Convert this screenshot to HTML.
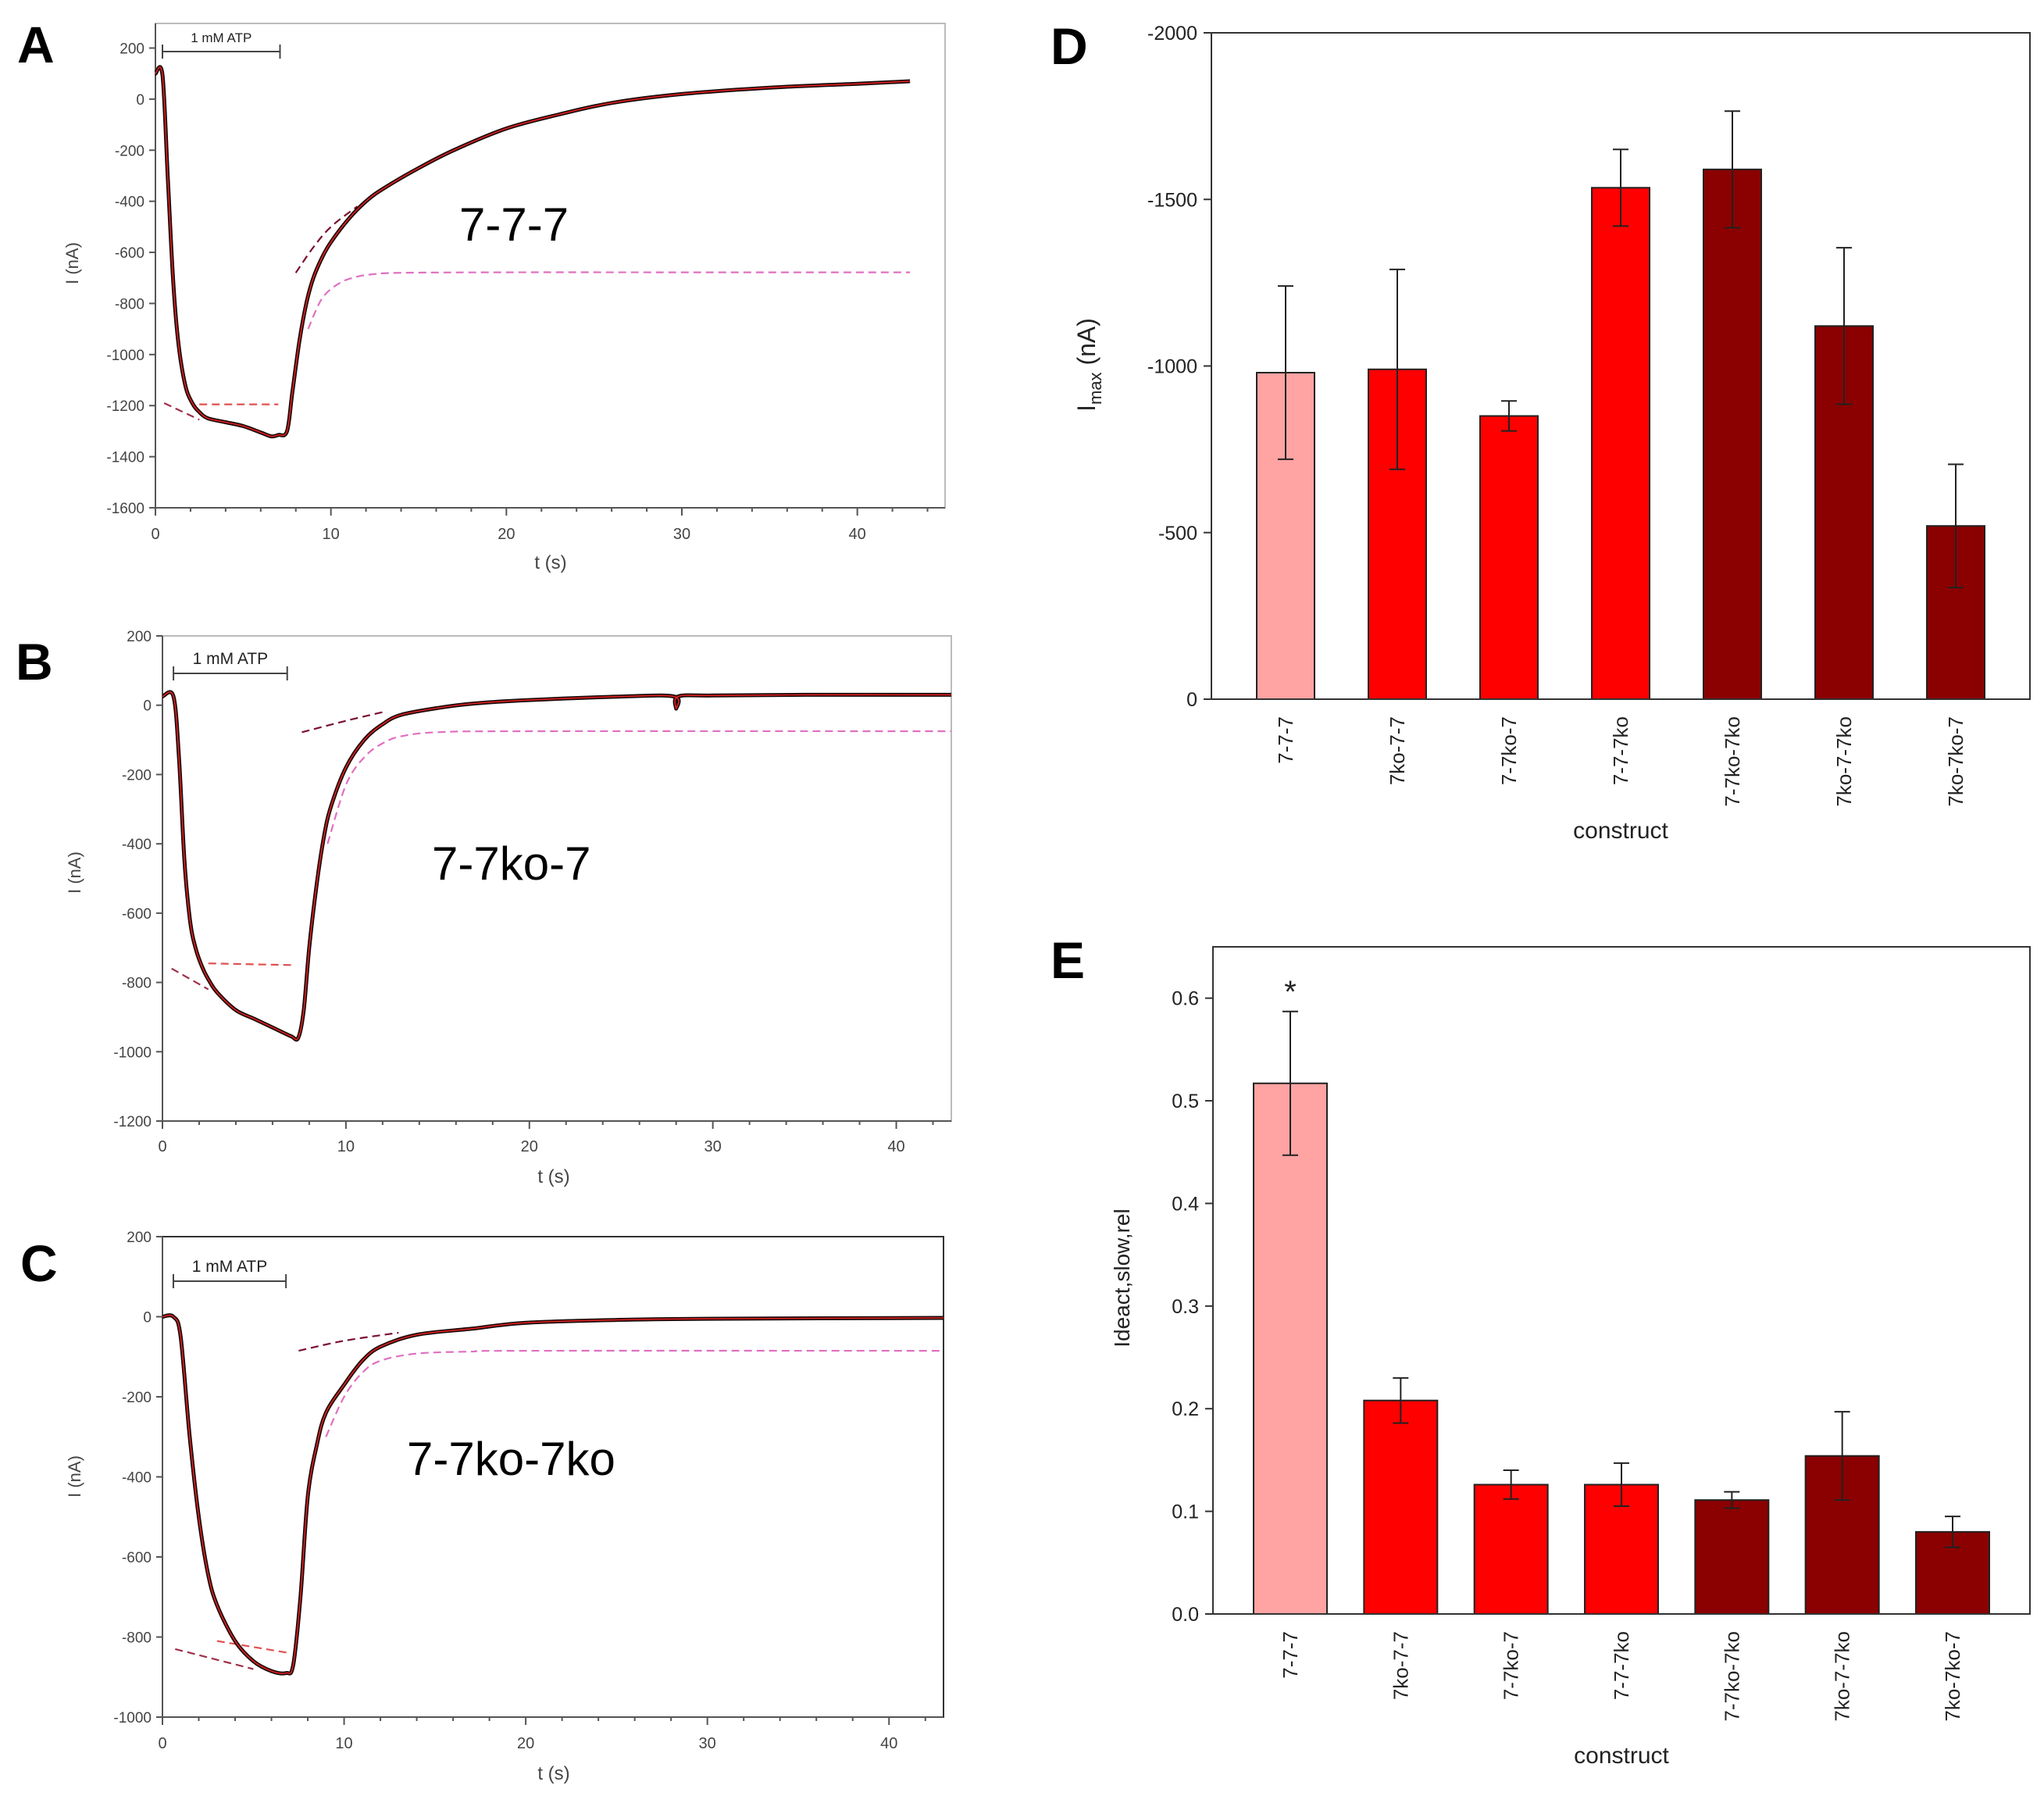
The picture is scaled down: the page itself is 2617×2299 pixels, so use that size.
<!DOCTYPE html>
<html><head><meta charset="utf-8"><style>
html,body{margin:0;padding:0;background:#fff}
svg{display:block;font-family:"Liberation Sans",sans-serif}
</style></head><body>
<svg id="fig" width="2617" height="2299" viewBox="0 0 2617 2299" xmlns="http://www.w3.org/2000/svg">
<rect width="2617" height="2299" fill="#fff"/>
<g id="panels"></g>
</svg>
<script>
// ---------- Panel A data (7-7-7) ----------
const tA = [0,0.4,0.7,1.0,1.3,1.7,2.1,2.5,3,4,5,6,6.6,7.0,7.5,7.8,8.2,8.6,9,9.5,10,11,12,13,15,17,20,23,26,30,35,40,43];
const iA = [100,95,-300,-700,-950,-1120,-1190,-1225,-1250,-1265,-1280,-1305,-1320,-1315,-1300,-1150,-950,-800,-700,-620,-560,-470,-400,-350,-270,-200,-115,-60,-15,20,45,60,70];
const fitA1t = [0.5,2.5], fitA1i = [-1190,-1255];
const fitA2t = [2.5,7.0], fitA2i = [-1195,-1195];
const fitA3t = [8,9,10,11.5], fitA3i = [-680,-580,-500,-420];
const fitA4t = [8.7,9.5,10.5,11.5,12.5,14,20,30,43], fitA4i = [-900,-780,-720,-695,-685,-680,-678,-678,-678];
// ---------- Panel B data (7-7ko-7) ----------
const tB = [0,0.6,0.9,1.2,1.5,1.8,2.2,2.6,3,4,5,6,7,7.4,7.7,8,8.4,8.8,9.2,10,11,12,13,15,17,20,25,27.9,28,28.1,30,35,43];
const iB = [25,25,-150,-450,-620,-700,-760,-800,-830,-880,-905,-930,-955,-960,-880,-700,-520,-380,-290,-180,-100,-55,-28,-8,5,15,25,25,-10,25,28,30,30];
const fitB1t = [0.5,2.5], fitB1i = [-760,-820];
const fitB2t = [2.5,7.2], fitB2i = [-745,-750];
const fitB3t = [7.6,10,12], fitB3i = [-78,-45,-20];
const fitB4t = [9,10,11,12,13,15,20,43], fitB4i = [-400,-230,-150,-110,-90,-78,-75,-75];
// ---------- Panel C data (7-7ko-7ko) ----------
const tC = [0,0.6,1.0,1.5,2,2.5,3,4,5,6,6.8,7.2,7.6,8,8.5,9,10,11,12,14,17,20,25,30,43];
const iC = [0,0,-50,-300,-500,-640,-720,-810,-860,-885,-890,-870,-700,-450,-320,-240,-170,-110,-75,-45,-30,-15,-8,-5,-3];
const fitC1t = [0.7,5], fitC1i = [-830,-880];
const fitC2t = [3,7], fitC2i = [-810,-840];
const fitC3t = [7.5,10,13], fitC3i = [-85,-60,-40];
const fitC4t = [9,10,11,12,14,17,20,43], fitC4i = [-300,-200,-140,-110,-92,-87,-85,-85];
// ---------- Panel D / E data ----------
const constructs = ["7-7-7","7ko-7-7","7-7ko-7","7-7-7ko","7-7ko-7ko","7ko-7-7ko","7ko-7ko-7"];
const barColors = ["#ffa3a3","#ff0000","#ff0000","#ff0000","#8b0000","#8b0000","#8b0000"];
const imaxVals = [-980,-990,-850,-1535,-1590,-1120,-520];
const imaxErr = [260,300,45,115,175,235,185];
const imaxTicks = [0,-500,-1000,-1500,-2000];
const ideactVals = [0.517,0.208,0.126,0.126,0.111,0.154,0.080];
const ideactErr = [0.070,0.022,0.014,0.021,0.008,0.043,0.015];
const ideactTicks = [0.0,0.1,0.2,0.3,0.4,0.5,0.6];

const NS = "http://www.w3.org/2000/svg";
const root = document.getElementById("panels");
function mk(tag, attrs, parent){const e=document.createElementNS(NS,tag);for(const k in attrs)e.setAttribute(k,attrs[k]);(parent||root).appendChild(e);return e;}
function txt(s, attrs, parent){const e=mk("text",attrs,parent);e.textContent=s;return e;}
function smoothPath(P){
  if(P.length<3) return "M"+P.map(p=>p[0].toFixed(1)+","+p[1].toFixed(1)).join(" L");
  let d="M"+P[0][0].toFixed(1)+","+P[0][1].toFixed(1);
  for(let i=0;i<P.length-1;i++){
    const p0=P[Math.max(0,i-1)],p1=P[i],p2=P[i+1],p3=P[Math.min(P.length-1,i+2)];
    const c1=[p1[0]+(p2[0]-p0[0])/6,p1[1]+(p2[1]-p0[1])/6];
    const c2=[p2[0]-(p3[0]-p1[0])/6,p2[1]-(p3[1]-p1[1])/6];
    d+=` C${c1[0].toFixed(1)},${c1[1].toFixed(1)} ${c2[0].toFixed(1)},${c2[1].toFixed(1)} ${p2[0].toFixed(1)},${p2[1].toFixed(1)}`;
  }
  return d;
}

function tracePanel(cfg){
  const g = mk("g",{});
  
  
  const sx = t => cfg.x0 + (t/cfg.xmax)*(cfg.x1-cfg.x0);
  const sy = v => cfg.yb + (v-cfg.ymin)/(cfg.ymaxTick-cfg.ymin)*(cfg.yTickTop-cfg.yb);
  const fr = mk("rect",{x:cfg.x0,y:cfg.yt,width:cfg.x1-cfg.x0,height:cfg.yb-cfg.yt,fill:"none",stroke:cfg.frame,"stroke-width":2},g);
  
  
  mk("line",{x1:cfg.x0,y1:cfg.yt,x2:cfg.x0,y2:cfg.yb,stroke:"#555","stroke-width":2},g);
  mk("line",{x1:cfg.x0,y1:cfg.yb,x2:cfg.x1,y2:cfg.yb,stroke:"#555","stroke-width":2},g);
  for(let v=cfg.ymin; v<=cfg.ymaxTick; v+=200){
    const y=sy(v);
    mk("line",{x1:cfg.x0-8,y1:y,x2:cfg.x0,y2:y,stroke:"#555","stroke-width":2},g);
    const t=txt(String(v),{x:cfg.x0-14,y:y+7,"font-size":19,"text-anchor":"end",fill:"#444"},g);
    
    
  }
  for(let v=0; v<=cfg.xmax; v+=2){
    const x=sx(v), major = v%10===0;
    mk("line",{x1:x,y1:cfg.yb,x2:x,y2:cfg.yb+(major?10:5),stroke:"#555","stroke-width":2},g);
    if(major){
      const t=txt(String(v),{x:x,y:cfg.xlabY,"font-size":20,"text-anchor":"middle",fill:"#444"},g);
      
      
    }
  }
  const xt=txt("t (s)",{x:cfg.xtX,y:cfg.xtY,"font-size":24,"text-anchor":"middle",fill:"#444"},g);
  
  
  const yt=txt("I (nA)",{x:0,y:0,"font-size":22,"text-anchor":"middle",fill:"#444",transform:`translate(${cfg.ytX},${cfg.ytY}) rotate(-90)`},g);
  
  
  const L=txt(cfg.letter,{x:cfg.lx,y:cfg.ly,"font-size":66,"font-weight":"bold",fill:"#000"},g);
  
  
  const b1=sx(cfg.atp[0]), b2=sx(cfg.atp[1]);
  const ab=mk("g",{},g);
  
  
  mk("line",{x1:b1,y1:cfg.atpY,x2:b2,y2:cfg.atpY,stroke:"#444","stroke-width":2},ab);
  mk("line",{x1:b1,y1:cfg.atpY-9,x2:b1,y2:cfg.atpY+9,stroke:"#444","stroke-width":2},ab);
  mk("line",{x1:b2,y1:cfg.atpY-9,x2:b2,y2:cfg.atpY+9,stroke:"#444","stroke-width":2},ab);
  txt("1 mM ATP",{x:(b1+b2)/2,y:cfg.atpY-12,"font-size":cfg.atpFs,"text-anchor":"middle",fill:"#222"},ab);
  const cl=txt(cfg.label,{x:cfg.labX,y:cfg.labY,"font-size":60,fill:"#000"},g);
  
  
  const pp=(ts,is)=>ts.map((t,i)=>[sx(t),sy(is[i])]);
  const fits=[[cfg.f1t,cfg.f1i,"#a0304a"],[cfg.f2t,cfg.f2i,"#e05050"],[cfg.f3t,cfg.f3i,"#7a1030"],[cfg.f4t,cfg.f4i,"#e070c0"]];
  fits.forEach(f=>{
    const p=mk("path",{d:smoothPath(pp(f[0],f[1])),fill:"none",stroke:f[2],"stroke-width":2.2,"stroke-dasharray":"10,6"},g);
    
    
  });
  const d=smoothPath(pp(cfg.ts,cfg.is));
  const tr=mk("path",{d:d,fill:"none",stroke:"#1a0a0a","stroke-width":5,"stroke-linejoin":"round"},g);
  
  
  const tr2=mk("path",{d:d,fill:"none",stroke:"#e02020","stroke-width":1.6,"stroke-linejoin":"round"},g);
  
  
}

tracePanel({name:"panel-a",letter:"A",lx:22,ly:80,x0:199,x1:1210,xmax:45,yt:30,yb:650,ymin:-1600,ymaxTick:200,yTickTop:61.5,
  xlabY:690,xtX:705,xtY:728,ytX:100,ytY:337,frame:"#bbb",atp:[0.4,7.1],atpY:66,atpFs:17,label:"7-7-7",labX:588,labY:308,
  ts:tA,is:iA,f1t:fitA1t,f1i:fitA1i,f2t:fitA2t,f2i:fitA2i,f3t:fitA3t,f3i:fitA3i,f4t:fitA4t,f4i:fitA4i});
tracePanel({name:"panel-b",letter:"B",lx:20,ly:870,x0:208,x1:1218,xmax:43,yt:814,yb:1435,ymin:-1200,ymaxTick:200,yTickTop:814,
  xlabY:1474,xtX:709,xtY:1514,ytX:103,ytY:1117,frame:"#bbb",atp:[0.6,6.8],atpY:862,atpFs:21,label:"7-7ko-7",labX:553,labY:1126,
  ts:tB,is:iB,f1t:fitB1t,f1i:fitB1i,f2t:fitB2t,f2i:fitB2i,f3t:fitB3t,f3i:fitB3i,f4t:fitB4t,f4i:fitB4i});
tracePanel({name:"panel-c",letter:"C",lx:26,ly:1640,x0:208,x1:1208,xmax:43,yt:1583,yb:2198,ymin:-1000,ymaxTick:200,yTickTop:1583,
  xlabY:2238,xtX:709,xtY:2278,ytX:103,ytY:1890,frame:"#333",atp:[0.6,6.8],atpY:1640,atpFs:21,label:"7-7ko-7ko",labX:521,labY:1888,
  ts:tC,is:iC,f1t:fitC1t,f1i:fitC1i,f2t:fitC2t,f2i:fitC2i,f3t:fitC3t,f3i:fitC3i,f4t:fitC4t,f4i:fitC4i});

function barPanel(cfg){
  const g = mk("g",{});
  
  
  const sy = v => cfg.yb + (v-cfg.v0)/(cfg.vTop-cfg.v0)*(cfg.yt-cfg.yb);
  const n=cfg.vals.length, step=(cfg.x1-cfg.x0-2*cfg.pad)/(n-1);
  const cx = i => cfg.x0+cfg.pad+i*step;
  cfg.vals.forEach((v,i)=>{
    const y=sy(v), x=cx(i)-cfg.bw/2;
    const r=mk("rect",{x:x,y:Math.min(y,cfg.yb),width:cfg.bw,height:Math.abs(cfg.yb-y),fill:cfg.colors[i],stroke:"#222","stroke-width":2},g);
    
    
    const e=cfg.err[i], ya=sy(v-e), yb2=sy(v+e);
    const eb=mk("g",{stroke:"#222","stroke-width":2},g);
    
    
    mk("line",{x1:cx(i),y1:ya,x2:cx(i),y2:yb2},eb);
    mk("line",{x1:cx(i)-10,y1:ya,x2:cx(i)+10,y2:ya},eb);
    mk("line",{x1:cx(i)-10,y1:yb2,x2:cx(i)+10,y2:yb2},eb);
    const lt=txt(cfg.cats[i],{x:0,y:0,"font-size":26,"text-anchor":"end",fill:"#222",transform:`translate(${cx(i)+9},${cfg.yb+22}) rotate(-90)`},g);
    
    
  });
  if(cfg.star){
    const s=txt("*",{x:cx(0),y:sy(cfg.vals[0]+cfg.err[0])-12,"font-size":40,"text-anchor":"middle",fill:"#222"},g);
    
    
  }
  mk("rect",{x:cfg.x0,y:cfg.yt,width:cfg.x1-cfg.x0,height:cfg.yb-cfg.yt,fill:"none",stroke:"#333","stroke-width":2},g);
  cfg.ticks.forEach(v=>{
    const y=sy(v);
    mk("line",{x1:cfg.x0-10,y1:y,x2:cfg.x0,y2:y,stroke:"#333","stroke-width":2},g);
    const t=txt(cfg.fmt(v),{x:cfg.x0-18,y:y+9,"font-size":25,"text-anchor":"end",fill:"#222"},g);
    
    
  });
  const ct=txt("construct",{x:(cfg.x0+cfg.x1)/2,y:cfg.ctY,"font-size":30,"text-anchor":"middle",fill:"#222"},g);
  
  
  const yt=mk("text",{x:0,y:0,"font-size":32,"text-anchor":"middle",fill:"#222",transform:`translate(${cfg.ytX},${cfg.ytY}) rotate(-90)`},g);
  
  
  if(cfg.imax){yt.innerHTML='I<tspan font-size="22" dy="8">max</tspan><tspan dy="-8"> (nA)</tspan>';}
  else{yt.setAttribute("font-size","28");yt.textContent="Ideact,slow,rel";}
  const L=txt(cfg.letter,{x:cfg.lx,y:cfg.ly,"font-size":66,"font-weight":"bold",fill:"#000"},g);
  
  
}
barPanel({name:"panel-d",letter:"D",lx:1345,ly:82,x0:1551,x1:2599,yt:42,yb:895,v0:0,vTop:-2000,pad:95,bw:74,
  vals:imaxVals,err:imaxErr,cats:constructs,colors:barColors,ticks:imaxTicks,fmt:v=>String(v),ctY:1073,ytX:1402,ytY:467,imax:true});
barPanel({name:"panel-e",letter:"E",lx:1345,ly:1252,x0:1553,x1:2599,yt:1212,yb:2066,v0:0,vTop:0.65,pad:99,bw:94,
  vals:ideactVals,err:ideactErr,cats:constructs,colors:barColors,ticks:ideactTicks,fmt:v=>v.toFixed(1),ctY:2257,ytX:1446,ytY:1636,star:true});
</script>
</body></html>
